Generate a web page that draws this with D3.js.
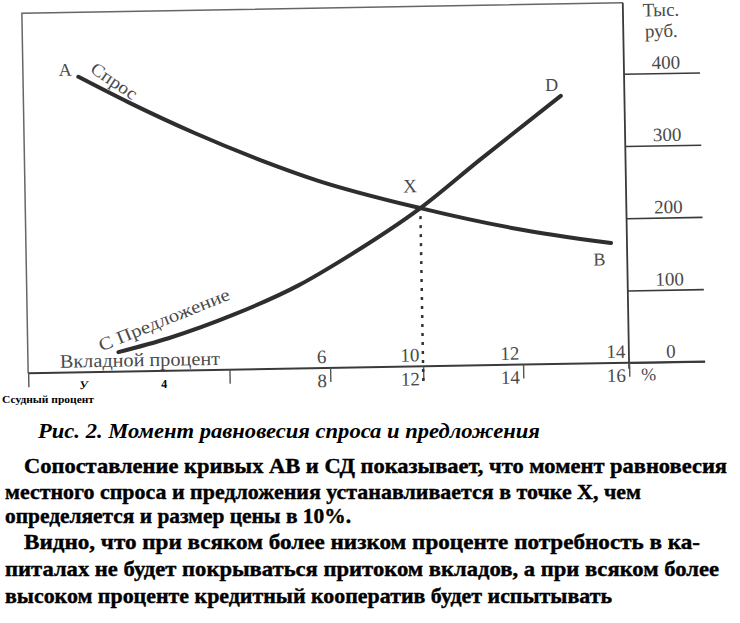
<!DOCTYPE html>
<html>
<head>
<meta charset="utf-8">
<script src="https://cdn.jsdelivr.net/npm/d3@7/dist/d3.min.js"></script>
<style>
body { margin: 0; background: #fff; }
svg { display: block; }
</style>
</head>
<body>
<svg id="chart" width="740" height="623"></svg>
<script>
// Спрос (A-B): x = вкладной процент, y = тыс. руб.
var demandX = [1.1, 2.1, 3.4, 4.7, 5.8, 10, 11.85, 13.7];
var demandY = [409, 372, 328, 289, 260, 219, 189, 166];

// Предложение (C-D)
var supplyX = [1.8, 2.8, 4.1, 5.4, 6.8, 10, 11.2, 12.8];
var supplyY = [27, 45, 76, 115, 153, 219, 284, 371];

// точка равновесия X
var eqX = 10;
var eqY = 219;

// шкалы
var depositTicks = [6, 10, 12, 14];
var loanTicks = [2, 6, 8, 12, 14, 16];
var loanTickLabels = ["", "", "8", "12", "14", "16"];
var strayLoanValues = [3.1, 4.7];
var strayLoanLabels = ["У", "4"];
var valueTicks = [0, 100, 200, 300, 400];

var caption = "Рис. 2. Момент равновесия спроса и предложения";
var bodyLines = [
	"Сопоставление кривых АВ и СД показывает, что момент равновесия",
	"местного спроса и предложения устанавливается в точке X, чем",
	"определяется и размер цены в 10%.",
	"Видно, что при всяком более низком проценте потребность в ка-",
	"питалах не будет покрываться притоком вкладов, а при всяком более",
	"высоком проценте кредитный кооператив будет испытывать"
];

// ------- layout -------
var _serif = "'Liberation Serif', 'DejaVu Serif', serif";
var _ink = "#3a3a3a";
var _textInk = "#4a4a4a";
var _left = 25, _right = 626, _top = 8;
var _tickLen = 76;

// ширина и положение строк текста (подогнано по скану)
var _bodyX = [24, 5, 5, 24, 5, 5];
var _bodyW = [703, 636, 346, 676, 714, 607];
var _bodyY = [473, 499, 523, 549, 576, 603];

var svg = d3.select("#chart");

// скан повёрнут примерно на 1 градус
var g = svg.append("g").attr("transform", "rotate(-1, 325, 190)");

// вкладной процент сверху оси, ссудный снизу (ось неравномерная, как на рисунке)
var xDep = d3.scaleLinear().domain([0, 6, 10, 12, 14]).range([_left, 327, 420, 520, _right]);
var xLoan = d3.scaleLinear().domain([2, 8, 12, 14, 16]).range([_left, 327, 420, 520, _right]);
var y = d3.scaleLinear().domain([0, 400]).range([368, 79]);

var y0 = y(0);

// рамка
g.append("path")
	.attr("d", "M" + _left + "," + y0 + "V" + _top + "H" + _right)
	.attr("fill", "none")
	.attr("stroke", "#666")
	.attr("stroke-width", 1.5);

// правая ось (тыс. руб.)
var axisR = g.append("g")
	.attr("transform", "translate(" + _right + ",0)")
	.call(d3.axisRight(y).tickValues(valueTicks).tickSize(_tickLen).tickFormat(d3.format("d")));
axisR.select(".domain").remove();
axisR.attr("font-family", _serif).attr("font-size", 19);
axisR.selectAll(".tick line").attr("stroke", _ink).attr("stroke-width", 1.6);
axisR.selectAll(".tick text")
	.attr("x", 42)
	.attr("dy", "-0.25em")
	.attr("text-anchor", "middle")
	.attr("fill", _textInk);

g.append("line")
	.attr("x1", _right).attr("x2", _right)
	.attr("y1", _top).attr("y2", y0 + 6)
	.attr("stroke", _ink).attr("stroke-width", 1.8);

g.append("text")
	.attr("x", 664).attr("y", 22)
	.attr("text-anchor", "middle")
	.attr("font-family", _serif).attr("font-size", 19)
	.attr("fill", _textInk)
	.text("Тыс.");
g.append("text")
	.attr("x", 664).attr("y", 43)
	.attr("text-anchor", "middle")
	.attr("font-family", _serif).attr("font-size", 19)
	.attr("fill", _textInk)
	.text("руб.");

// нижняя линия
g.append("line")
	.attr("x1", _left).attr("x2", _right + _tickLen)
	.attr("y1", y0).attr("y2", y0)
	.attr("stroke", _ink).attr("stroke-width", 2);

// вкладной процент
var axisDep = g.append("g")
	.attr("transform", "translate(0," + y0 + ")")
	.call(d3.axisTop(xDep).tickValues(depositTicks).tickSize(0).tickPadding(5));
axisDep.select(".domain").remove();
axisDep.attr("font-family", _serif).attr("font-size", 19);
axisDep.selectAll(".tick text")
	.attr("x", -4)
	.attr("text-anchor", "end")
	.attr("fill", _textInk);

g.append("text")
	.attr("x", 57).attr("y", y0 - 5)
	.attr("font-family", _serif).attr("font-size", 19)
	.attr("fill", _textInk)
	.attr("textLength", 160)
	.attr("lengthAdjust", "spacingAndGlyphs")
	.text("Вкладной процент");

// ссудный процент
var axisLoan = g.append("g")
	.attr("transform", "translate(0," + y0 + ")")
	.call(d3.axisBottom(xLoan).tickValues(loanTicks).tickSize(14)
		.tickFormat(function(d, i){ return loanTickLabels[i]; }));
axisLoan.select(".domain").remove();
axisLoan.attr("font-family", _serif).attr("font-size", 19);
axisLoan.selectAll(".tick line").attr("stroke", "#555").attr("stroke-width", 1.4);
axisLoan.selectAll(".tick text")
	.attr("x", -4)
	.attr("y", 19)
	.attr("dy", 0)
	.attr("text-anchor", "end")
	.attr("fill", _textInk);

g.append("text")
	.attr("x", _right + 12).attr("y", y0 + 18)
	.attr("font-family", _serif).attr("font-size", 18)
	.attr("fill", _textInk)
	.text("%");

strayLoanValues.forEach(function(v, i){
	g.append("text")
		.attr("x", xLoan(v)).attr("y", y0 + 17)
		.attr("text-anchor", "middle")
		.attr("font-family", _serif).attr("font-size", 12)
		.attr("font-weight", "bold")
		.attr("font-style", i == 0 ? "italic" : "normal")
		.attr("fill", "#000")
		.text(strayLoanLabels[i]);
});

// кривые
var line = d3.line()
	.x(function(d){ return xDep(d[0]); })
	.y(function(d){ return y(d[1]); })
	.curve(d3.curveMonotoneX);

var demand = demandX.map(function(v, i){ return [v, demandY[i]]; });
var supply = supplyX.map(function(v, i){ return [v, supplyY[i]]; });

g.append("path")
	.attr("d", line(demand))
	.attr("fill", "none")
	.attr("stroke", "#2e2e2e")
	.attr("stroke-width", 4)
	.attr("stroke-linecap", "round");

g.append("path")
	.attr("d", line(supply))
	.attr("fill", "none")
	.attr("stroke", "#2e2e2e")
	.attr("stroke-width", 4)
	.attr("stroke-linecap", "round");

// пунктир от X
g.append("line")
	.attr("x1", xDep(eqX)).attr("x2", xDep(eqX))
	.attr("y1", y(eqY) + 8).attr("y2", y0 + 18)
	.attr("stroke", "#333")
	.attr("stroke-width", 2.5)
	.attr("stroke-dasharray", "3,6");

// подписи кривых
var ax = xDep(demandX[0]), ay = y(demandY[0]);
var bx = xDep(demandX[demandX.length - 1]), by = y(demandY[demandY.length - 1]);
var cx = xDep(supplyX[0]), cy = y(supplyY[0]);
var dx = xDep(supplyX[supplyX.length - 1]), dy = y(supplyY[supplyY.length - 1]);

function label(x, yy, t, size){
	return g.append("text")
		.attr("x", x).attr("y", yy)
		.attr("text-anchor", "middle")
		.attr("font-family", _serif).attr("font-size", size)
		.attr("fill", _textInk)
		.text(t);
}

label(ax - 13, ay - 1, "A", 18);
label(bx - 12, by + 22, "B", 18);
label(dx - 9, dy - 5, "D", 18);
label(xDep(eqX) - 10, y(eqY) - 16, "X", 19);

g.append("text")
	.attr("transform", "translate(" + (ax + 11) + "," + (ay - 5) + ") rotate(35)")
	.attr("font-family", _serif).attr("font-size", 18)
	.attr("fill", _textInk)
	.attr("textLength", 52)
	.attr("lengthAdjust", "spacingAndGlyphs")
	.text("Спрос");

g.append("text")
	.attr("transform", "translate(" + (cx - 17) + "," + (cy - 1) + ") rotate(-21)")
	.attr("font-family", _serif).attr("font-size", 18)
	.attr("fill", _textInk)
	.attr("textLength", 140)
	.attr("lengthAdjust", "spacingAndGlyphs")
	.text("С Предложение");

// подпись под осью (не повёрнута)
svg.append("text")
	.attr("x", 2).attr("y", 403)
	.attr("font-family", _serif).attr("font-size", 11)
	.attr("font-weight", "bold")
	.attr("textLength", 92)
	.attr("lengthAdjust", "spacingAndGlyphs")
	.text("Ссудный процент");

// подпись рисунка
svg.append("text")
	.attr("x", 38).attr("y", 438)
	.attr("font-family", _serif).attr("font-size", 20)
	.attr("font-weight", "bold").attr("font-style", "italic")
	.attr("textLength", 502)
	.attr("lengthAdjust", "spacingAndGlyphs")
	.text(caption);

// текст
bodyLines.forEach(function(t, i){
	svg.append("text")
		.attr("x", _bodyX[i]).attr("y", _bodyY[i])
		.attr("font-family", _serif).attr("font-size", 21)
		.attr("font-weight", "bold")
		.attr("stroke", "#000").attr("stroke-width", 0.4)
		.attr("textLength", _bodyW[i])
		.attr("lengthAdjust", "spacingAndGlyphs")
		.text(t);
});
</script>
</body>
</html>
